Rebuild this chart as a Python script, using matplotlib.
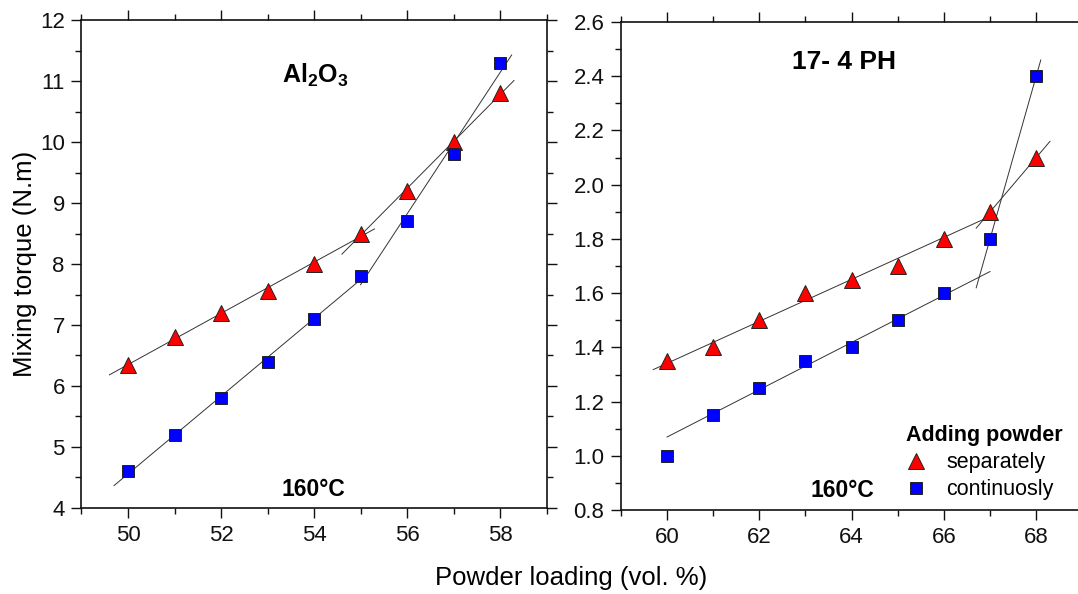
import numpy as np
import matplotlib
matplotlib.use("Agg")
import matplotlib.pyplot as plt
from matplotlib.ticker import MultipleLocator, FormatStrFormatter

plt.rcParams['font.family'] = ['Liberation Sans', 'DejaVu Sans']

# ---- data ----
al_x = [50, 51, 52, 53, 54, 55, 56, 57, 58]
al_sep = [6.35, 6.8, 7.2, 7.55, 8.0, 8.5, 9.2, 10.0, 10.8]
al_cont = [4.6, 5.2, 5.8, 6.4, 7.1, 7.8, 8.7, 9.8, 11.3]

ph_x = [60, 61, 62, 63, 64, 65, 66, 67, 68]
ph_sep = [1.35, 1.40, 1.50, 1.60, 1.65, 1.70, 1.80, 1.90, 2.10]
ph_cont = [1.00, 1.15, 1.25, 1.35, 1.40, 1.50, 1.60, 1.80, 2.40]

# fit segments: (first index, last index, x start, x end)
al_sep_fits = [(0, 5, 49.6, 55.3), (5, 8, 54.6, 58.3)]
al_cont_fits = [(0, 5, 49.7, 55.15), (5, 8, 55.0, 58.25)]
ph_sep_fits = [(0, 7, 59.7, 67.0), (7, 8, 66.7, 68.3)]
ph_cont_fits = [(1, 6, 60.0, 67.0), (7, 8, 66.7, 68.1)]

fig = plt.figure(figsize=(10.78, 5.94), dpi=100)
ax1 = fig.add_axes([0.0756, 0.145, 0.4314, 0.821])
ax2 = fig.add_axes([0.576, 0.141, 0.428, 0.822])


def draw_fits(ax, xs, ys, fits):
    xs = np.asarray(xs, float)
    ys = np.asarray(ys, float)
    for i0, i1, xa, xb in fits:
        p = np.polyfit(xs[i0:i1 + 1], ys[i0:i1 + 1], 1)
        xx = np.array([xa, xb])
        ax.plot(xx, np.polyval(p, xx), color='#333333', lw=0.7, zorder=2)


def style(ax, xlim, ylim, ymaj, ymin, fmt):
    ax.set_xlim(*xlim)
    ax.set_ylim(*ylim)
    ax.xaxis.set_major_locator(MultipleLocator(2))
    ax.xaxis.set_minor_locator(MultipleLocator(1))
    ax.yaxis.set_major_locator(MultipleLocator(ymaj))
    ax.yaxis.set_minor_locator(MultipleLocator(ymin))
    ax.yaxis.set_major_formatter(FormatStrFormatter(fmt))
    ax.tick_params(which='both', direction='out', top=True, right=True,
                   labelsize=16, colors='#111111', width=1.0)
    ax.tick_params(which='major', length=7, pad=5)
    ax.tick_params(which='minor', length=4)
    for s in ax.spines.values():
        s.set_linewidth(1.2)
        s.set_color('#111111')


for ax, xs, sep, cont, fs, fc in [
        (ax1, al_x, al_sep, al_cont, al_sep_fits, al_cont_fits),
        (ax2, ph_x, ph_sep, ph_cont, ph_sep_fits, ph_cont_fits)]:
    draw_fits(ax, xs, sep, fs)
    draw_fits(ax, xs, cont, fc)
    ax.plot(xs, sep, linestyle='none', marker='^', markersize=11,
            markerfacecolor='#ff0000', markeredgecolor='#222222',
            markeredgewidth=0.7, zorder=3, label='separately')
    ax.plot(xs, cont, linestyle='none', marker='s', markersize=9,
            markerfacecolor='#0000ff', markeredgecolor='#222222',
            markeredgewidth=0.7, zorder=3, label='continuosly')

style(ax1, (49, 59), (4, 12), 1, 0.5, '%d')
style(ax2, (59, 69), (0.8, 2.6), 0.2, 0.1, '%.1f')

ax1.text(0.502, 0.887, r'Al$_\mathregular{2}$O$_\mathregular{3}$', transform=ax1.transAxes,
         ha='center', va='center', fontsize=18, fontweight='bold')
ax1.text(0.498, 0.037, '160°C', transform=ax1.transAxes,
         ha='center', va='center', fontsize=16.5, fontweight='bold')
ax2.text(0.483, 0.918, '17- 4 PH', transform=ax2.transAxes,
         ha='center', va='center', fontsize=19, fontweight='bold')
ax2.text(0.48, 0.041, '160°C', transform=ax2.transAxes,
         ha='center', va='center', fontsize=16.5, fontweight='bold')

leg = ax2.legend(loc='upper left', bbox_to_anchor=(0.617, 0.174), frameon=False,
                 title='Adding powder', fontsize=15.5, handletextpad=0.9,
                 handlelength=1.0, borderpad=0.0, borderaxespad=0.0,
                 labelspacing=0.28, alignment='left')
leg.get_title().set_fontweight('bold')
leg.get_title().set_fontsize(15.5)

ax1.set_ylabel('Mixing torque (N.m)', fontsize=18.5, labelpad=2)
fig.text(0.53, 0.027, 'Powder loading (vol. %)', ha='center', va='center', fontsize=18.5)

fig.savefig('out.png', dpi=100)
